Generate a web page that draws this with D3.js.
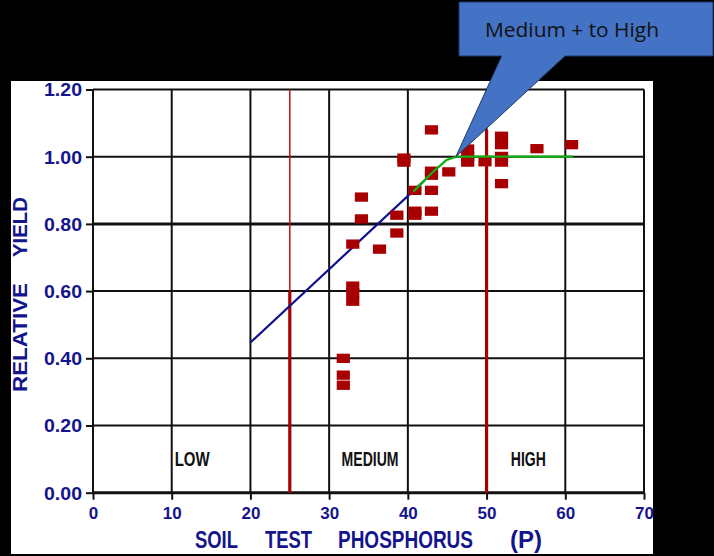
<!DOCTYPE html>
<html><head><meta charset="utf-8">
<script src="https://cdn.jsdelivr.net/npm/d3@7/dist/d3.min.js"></script>
<style>html,body{margin:0;padding:0;background:#000;overflow:hidden}</style>
</head><body>
<svg id="c" width="714" height="556"></svg>
<script>
// ---- data ----
const xTicks = [0, 10, 20, 30, 40, 50, 60, 70];
const yTicks = [0, 0.2, 0.4, 0.6, 0.8, 1.0, 1.2];
const yTickLabels = ["0.00", "0.20", "0.40", "0.60", "0.80", "1.00", "1.20"];
const pointP  = [31.8, 31.8, 31.8, 33.0, 33.0, 33.0, 33.0, 34.1, 34.1, 36.4, 38.6, 38.6, 39.5, 39.5,
                 40.9, 40.9, 40.9, 43.0, 43.0, 43.0, 43.0, 43.0, 45.2, 47.6, 47.6, 47.6, 49.8,
                 51.9, 51.9, 51.9, 51.9, 51.9, 56.4, 60.8];
const pointRY = [0.40, 0.35, 0.32, 0.615, 0.595, 0.57, 0.74, 0.88, 0.815, 0.725, 0.826, 0.773, 0.996, 0.984,
                 0.90, 0.838, 0.826, 1.08, 0.957, 0.945, 0.90, 0.838, 0.955, 1.023, 1.0, 0.984, 0.985,
                 1.061, 1.036, 1.001, 0.984, 0.92, 1.024, 1.036];
const blueLineP = [20, 42.2];
const blueLineRY = [0.447, 0.931];
const greenLineP = [40.7, 43.2, 44.9, 46.2, 61.0];
const greenLineRY = [0.896, 0.955, 0.99, 1.0, 1.0];
const redLineP = [25, 25, 50];
const redLineTop = [1.2, 0.6, 1.08];
const redLineBottom = [0.6, 0, 0];
const regionNames = ["LOW", "MEDIUM", "HIGH"];
const regionP = [12.6, 35.2, 55.3];
const calloutText = "Medium + to High";
const calloutTipP = 46.1, calloutTipRY = 1.0;
const xTitleWords = ["SOIL", "TEST", "PHOSPHORUS", "(P)"];
const yTitleWords = ["RELATIVE", "YIELD"];

// ---- layout ----
const svg = d3.select("#c");
const x = d3.scaleLinear().domain([0, 70]).range([93, 644]);
const y = d3.scaleLinear().domain([0, 1.2]).range([492.7, 89.5]);
const navy = "#14148c", red = "#a80000";
const font = "Liberation Sans, Arial, sans-serif";

svg.append("rect").attr("x", 0).attr("y", 0).attr("width", 714).attr("height", 556).attr("fill", "#000");
svg.append("rect").attr("x", 11).attr("y", 81).attr("width", 642).attr("height", 473).attr("fill", "#fff");

// grid
const g = svg.append("g");
g.selectAll(".vg").data(xTicks).join("line")
  .attr("x1", d => x(d)).attr("x2", d => x(d)).attr("y1", y(1.2)).attr("y2", y(0))
  .attr("stroke", "#111").attr("stroke-width", 2);
g.selectAll(".hg").data(yTicks).join("line")
  .attr("x1", x(0)).attr("x2", x(70)).attr("y1", d => y(d)).attr("y2", d => y(d))
  .attr("stroke", "#111").attr("stroke-width", d => (d === 0 || Math.abs(d - 0.8) < 1e-9) ? 3 : 2);

// axes (ticks + labels)
const yAxis = d3.axisLeft(y).tickValues(yTicks).tickSize(7).tickFormat((d, i) => yTickLabels[i]);
const ya = svg.append("g").attr("transform", `translate(${x(0)},0)`).call(yAxis);
ya.select(".domain").remove();
ya.selectAll(".tick line").attr("stroke", "#111").attr("stroke-width", 2);
ya.selectAll(".tick text").attr("fill", navy).attr("font-family", font)
  .attr("font-weight", "bold").attr("font-size", 17.5).attr("x", -11).attr("dy", "0.36em")
  .attr("textLength", 38).attr("lengthAdjust", "spacingAndGlyphs");

const xAxis = d3.axisBottom(x).tickValues(xTicks).tickSize(7).tickFormat(d3.format("d"));
const xa = svg.append("g").attr("transform", `translate(0,${y(0)})`).call(xAxis);
xa.select(".domain").remove();
xa.selectAll(".tick line").attr("stroke", "#111").attr("stroke-width", 2);
xa.selectAll(".tick text").attr("fill", navy).attr("font-family", font)
  .attr("font-weight", "bold").attr("font-size", 17).attr("y", 26).attr("dy", 0);

// red boundary lines
svg.selectAll(".rl").data(redLineP).join("line")
  .attr("x1", d => x(d)).attr("x2", d => x(d))
  .attr("y1", (d, i) => y(redLineTop[i])).attr("y2", (d, i) => y(redLineBottom[i]))
  .attr("stroke", (d, i) => i === 0 ? "#c01010" : red)
  .attr("stroke-width", (d, i) => i === 0 ? 1.5 : 3.2);

// regression lines
const line = d3.line().x(d => x(d[0])).y(d => y(d[1]));
svg.append("path").attr("d", line(blueLineP.map((p, i) => [p, blueLineRY[i]])))
  .attr("fill", "none").attr("stroke", "#101090").attr("stroke-width", 2.2);

// points
svg.selectAll(".pt").data(pointP).join("rect")
  .attr("x", d => x(d) - 6.6).attr("y", (d, i) => y(pointRY[i]) - 4.6)
  .attr("width", 13.2).attr("height", 9.3).attr("fill", red);

svg.append("path").attr("d", line(greenLineP.map((p, i) => [p, greenLineRY[i]])))
  .attr("fill", "none").attr("stroke", "#10b010").attr("stroke-width", 2.2);

// region labels (vertically stretched, condensed look)
svg.selectAll(".rg").data(regionNames).join("text")
  .attr("transform", (d, i) => `translate(${x(regionP[i])},466) scale(1,1.45)`)
  .attr("text-anchor", "middle").attr("font-family", font)
  .attr("font-weight", "bold").attr("font-size", 14).attr("fill", "#111")
  .attr("textLength", (d, i) => [35, 57, 35][i]).attr("lengthAdjust", "spacingAndGlyphs")
  .text(d => d);

// axis titles
const xTitleX = [195, 265, 338, 510];
const xTitleW = [43, 47, 135, 32];
svg.selectAll(".xt").data(xTitleWords).join("text")
  .attr("transform", (d, i) => `translate(${xTitleX[i]},548) scale(1,1.33)`)
  .attr("font-family", font).attr("font-weight", "bold")
  .attr("font-size", 18.5).attr("fill", navy)
  .attr("textLength", (d, i) => xTitleW[i]).attr("lengthAdjust", "spacingAndGlyphs")
  .text(d => d);

const yTitleY = [392, 257];
const yTitleW = [109, 60];
svg.selectAll(".yt").data(yTitleWords).join("text")
  .attr("transform", (d, i) => `translate(27,${yTitleY[i]}) rotate(-90)`)
  .attr("font-family", font).attr("font-weight", "bold")
  .attr("font-size", 19.5).attr("fill", navy)
  .attr("textLength", (d, i) => yTitleW[i]).attr("lengthAdjust", "spacingAndGlyphs")
  .text(d => d);

// callout
const tipX = x(calloutTipP), tipY = y(calloutTipRY);
const bx0 = 459, bx1 = 713, by0 = 2, by1 = 56;
const callout = d3.path();
callout.moveTo(bx0, by0); callout.lineTo(bx1, by0); callout.lineTo(bx1, by1);
callout.lineTo(565, by1); callout.lineTo(tipX, tipY); callout.lineTo(501.7, by1);
callout.lineTo(bx0, by1); callout.closePath();
svg.append("path").attr("d", callout.toString()).attr("fill", "#4472c4")
  .attr("stroke", "#1f3864").attr("stroke-width", 1);
svg.append("text").attr("x", 485).attr("y", 37).attr("font-family", "Open Sans, Liberation Sans, sans-serif")
  .attr("font-size", 20).attr("fill", "#111")
  .attr("textLength", 174).attr("lengthAdjust", "spacingAndGlyphs").text(calloutText);
</script>
</body></html>
